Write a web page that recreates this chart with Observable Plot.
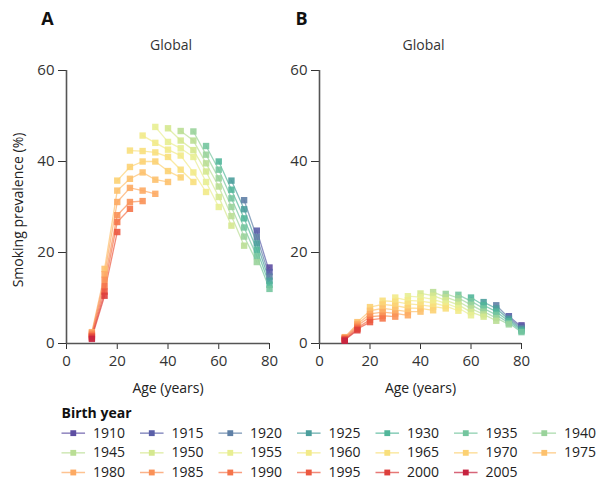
<!DOCTYPE html>
<html><head><meta charset="utf-8">
<script src="https://cdn.jsdelivr.net/npm/d3@7"></script>
<script src="https://cdn.jsdelivr.net/npm/@observablehq/plot@0.6"></script>
<style>
body{margin:0;background:#fff;}
#wrap{position:relative;width:597px;height:484px;overflow:hidden;font-family:"Open Sans",sans-serif;}
#wrap svg{position:absolute;overflow:visible;}
</style></head><body><div id="wrap"></div>
<script>
// Birth cohorts (legend order)
const birthYears = [1910,1915,1920,1925,1930,1935,1940,1945,1950,1955,1960,1965,1970,1975,1980,1985,1990,1995,2000,2005];
// First age (years) at which each cohort is observed; points every 5 years after
const firstAge = [80,75,70,65,60,55,50,45,40,35,30,25,20,15,10,10,10,10,10,10];
// Panel A – Global smoking prevalence (%) by cohort
const globalA = [
  [16.7],
  [24.8,15.7],
  [31.5,23.4,14.7],
  [35.8,29.5,22.0,13.8],
  [40.0,33.8,27.5,20.6,12.9],
  [43.4,38.2,31.9,25.5,19.2,12.0],
  [46.6,41.5,36.3,30.0,23.5,17.9],
  [46.7,44.6,39.6,34.5,28.0,21.5],
  [47.3,44.6,42.5,37.8,32.2,25.9],
  [47.6,44.3,42.9,41.0,35.5,30.0],
  [45.7,44.1,42.6,41.3,37.6,33.3],
  [42.4,42.3,42.0,41.0,38.2,35.5],
  [35.8,38.8,40.0,40.0,37.9,36.5],
  [16.4,33.6,36.2,37.6,36.0,35.5],
  [2.5,15.2,31.1,34.2,33.6,32.9],
  [2.2,14.0,28.2,31.1,31.3],
  [1.9,12.6,26.7,29.6],
  [1.6,11.4,24.5],
  [1.3,10.5],
  [1.0]
];
// Panel B – Global smoking prevalence (%) by cohort
const globalB = [
  [4.0],
  [6.0,3.7],
  [8.4,5.6,3.4],
  [9.1,7.7,5.3,3.1],
  [10.1,8.4,7.0,4.9,2.8],
  [10.7,9.3,7.7,6.3,4.5,2.5],
  [10.9,10.0,8.5,7.0,5.6,4.2],
  [11.3,10.2,9.2,7.7,6.4,5.0],
  [11.0,10.5,9.5,8.5,6.9,5.9],
  [10.4,10.2,9.7,8.8,7.8,6.2],
  [10.1,9.5,9.3,8.9,8.2,7.2],
  [9.4,9.2,8.7,8.5,8.1,7.7],
  [8.0,8.6,8.3,7.8,7.7,7.3],
  [4.7,7.2,7.7,7.4,7.0,7.0],
  [1.4,4.3,6.5,6.9,6.6,6.2],
  [1.2,3.9,5.9,6.1,5.9],
  [1.1,3.5,5.2,5.5],
  [0.9,3.2,4.7],
  [0.8,2.9],
  [0.6]
];
const ageTicks = [0,20,40,60,80];
const prevTicks = [0,20,40,60];
const panelTitle = "Global";
const xLabel = "Age (years)";
const yLabel = "Smoking prevalence (%)";
const legendTitle = "Birth year";

// Style: cohort palette (purple → teal → green → yellow → orange → red)
const palette = ["#5e4fa2","#5a5fa8","#5f80a6","#4b9e9c","#52b69a","#74c59e","#9ad39b","#bade95","#d5e88f","#e8ee92",
                 "#f2ea88","#f8df7c","#fcd173","#fdc16d","#fdaa63","#fa9157","#f5744a","#ec5840","#dd3f3c","#c6233f"];

const FONT = '"Open Sans", sans-serif';
const cohortNames = birthYears.map(String);
const colorScale = {type: "ordinal", domain: cohortNames, range: palette};

function rows(values) {
  const out = [];
  values.forEach((vs, i) => vs.forEach((v, j) => out.push({cohort: cohortNames[i], age: firstAge[i] + 5 * j, value: v})));
  return out;
}

function panel({data, letter, width, marginLeft, marginRight, letterDx, withYLabel}) {
  return Plot.plot({
    width, height: 400, marginTop: 70, marginBottom: 57, marginLeft, marginRight,
    style: {fontFamily: FONT, fontSize: "15px", color: "#333", background: "transparent", overflow: "visible"},
    x: {domain: [0, 80]},
    y: {domain: [0, 60]},
    color: colorScale,
    marks: [
      Plot.axisX({ticks: ageTicks, tickSize: 6, tickPadding: 6, label: null, fontSize: 15, fontFamily: FONT}),
      Plot.axisY({ticks: prevTicks, tickSize: 8, tickPadding: 4, label: null, fontSize: 15, fontFamily: FONT}),
      Plot.ruleX([0], {y1: 0, y2: 60, stroke: "#555", strokeWidth: 1.6}),
      Plot.ruleY([0], {x1: 0, x2: 80, stroke: "#555", strokeWidth: 1.6}),
      Plot.line(data, {x: "age", y: "value", z: "cohort", stroke: "cohort", strokeWidth: 1.3, strokeOpacity: 0.7}),
      Plot.dot(data, {x: "age", y: "value", fill: "cohort", symbol: "square", r: 3.6, fillOpacity: 0.9}),
      Plot.text([panelTitle], {text: d => d, frameAnchor: "top", textAnchor: "middle", lineAnchor: "middle", dx: 3, dy: -25, fontSize: 14, fill: "#333", fontFamily: FONT}),
      Plot.text([letter], {text: d => d, frameAnchor: "top-left", textAnchor: "middle", lineAnchor: "middle", dx: letterDx, dy: -51, fontSize: 18, fontWeight: "bold", fill: "#111", fontFamily: FONT}),
      Plot.text([xLabel], {text: d => d, frameAnchor: "bottom", textAnchor: "middle", lineAnchor: "middle", dy: 45, fontSize: 14, fill: "#222", fontFamily: FONT}),
      withYLabel ? Plot.text([yLabel], {text: d => d, frameAnchor: "left", textAnchor: "middle", lineAnchor: "middle", dx: -48, dy: 3, rotate: -90, fontSize: 14, fill: "#222", fontFamily: FONT}) : null
    ]
  });
}

const wrap = document.getElementById("wrap");
const pA = panel({data: rows(globalA), letter: "A", width: 298, marginLeft: 66, marginRight: 29, letterDx: -19, withYLabel: true});
pA.style.left = "0px"; pA.style.top = "0px";
const pB = panel({data: rows(globalB), letter: "B", width: 307, marginLeft: 29, marginRight: 76, letterDx: -18, withYLabel: false});
pB.style.left = "290px"; pB.style.top = "0px";
wrap.appendChild(pA);
wrap.appendChild(pB);

const legendData = cohortNames.map((c, i) => ({cohort: c, col: i % 7, row: Math.floor(i / 7)}));
const lg = Plot.plot({
  width: 597, height: 84, margin: 0,
  style: {fontFamily: FONT, fontSize: "14px", color: "#222", background: "transparent", overflow: "visible"},
  x: {domain: [0, 7], range: [61, 61 + 7 * 78.5], axis: null},
  y: {domain: [-1, 2], range: [13, 72], axis: null},
  color: colorScale,
  marks: [
    Plot.text([legendTitle], {text: d => d, x: 0, y: -1, textAnchor: "start", fontWeight: "bold", fontSize: 14, fill: "#111", fontFamily: FONT}),
    Plot.link(legendData, {x1: "col", x2: d => d.col + 0.3, y1: "row", y2: "row", stroke: "cohort", strokeWidth: 1.5, strokeOpacity: 0.7}),
    Plot.dot(legendData, {x: d => d.col + 0.15, y: "row", fill: "cohort", symbol: "square", r: 3.3}),
    Plot.text(legendData, {x: d => d.col + 0.4, y: "row", text: "cohort", textAnchor: "start", fontSize: 14, fill: "#222", fontFamily: FONT})
  ]
});
lg.style.left = "0px"; lg.style.top = "400px";
wrap.appendChild(lg);
</script></body></html>
